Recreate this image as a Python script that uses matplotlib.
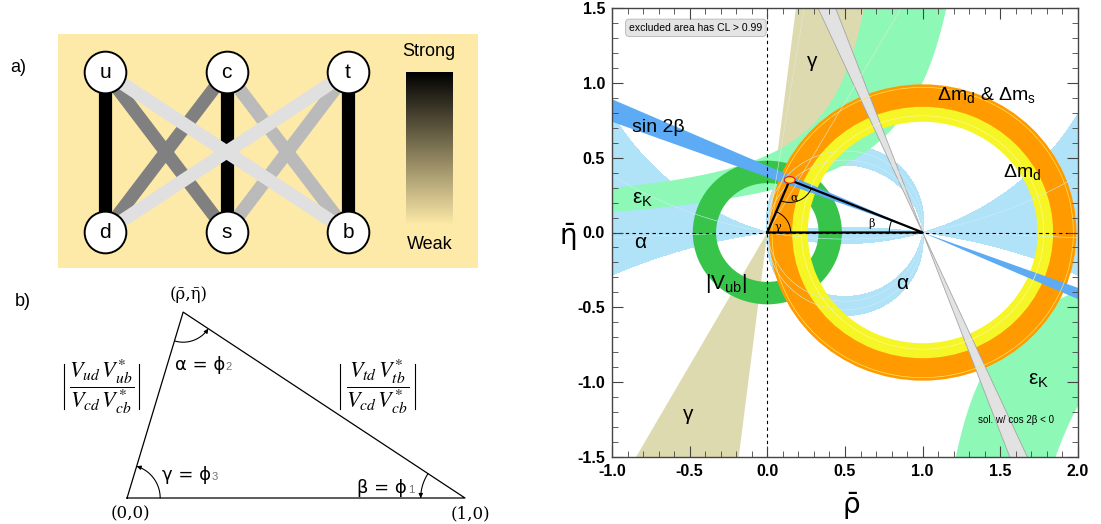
import numpy as np
import matplotlib.pyplot as plt
from matplotlib.patches import Wedge, Ellipse, FancyArrowPatch
from matplotlib.path import Path
from matplotlib.colors import LinearSegmentedColormap
from matplotlib.ticker import MultipleLocator, FormatStrFormatter

plt.rcParams['font.family'] = ['Liberation Sans', 'DejaVu Sans']

# ---- a) quark mixing diagram
up_quarks = ['u', 'c', 't']
down_quarks = ['d', 's', 'b']
# grey shade of each up -> down link (0 = black = strong coupling)
link_shade = [[0.00, 0.50, 0.88],
              [0.50, 0.00, 0.73],
              [0.88, 0.73, 0.00]]

# ---- b) unitarity triangle sketch
tri_apex = (0.166, 0.55)

# ---- c) constraints in the (rho, eta) plane
apex_fit = (0.144, 0.351)
gamma_range = (60.6, 83.0)           # deg, wedge from (0,0)
beta_range = (20.3, 24.0)            # sin 2beta, wedge from (1,0)
beta_alt_range = (110.5, 114.2)      # solution with cos 2beta < 0
alpha_bands = [(81.0, 96.0), (-7.8, 16.8)]
vub_radii = (0.33, 0.48)
dmd_radii = (0.74, 0.95)
dmd_dms_radii = (0.84, 0.99)
# eps_K band edges, eta = b + k / (a - rho)
epsk_upper = [(-0.07, 0.52, 1.48), (0.108, 0.364, 0.88)]
epsk_lower = [(0.15, 0.91, 1.30), (0.05, 0.48, 0.90)]

W, H = 1101, 524
fig = plt.figure(figsize=(W / 100, H / 100), dpi=100)
bg = '#fdeaa8'

# =================== a) ===================
ax_a = fig.add_axes([58 / W, 1 - 268 / H, 420 / W, 234 / H])
ax_a.set_xlim(-0.387, 3.07)
ax_a.set_ylim(-0.225, 1.2375)
ax_a.set_facecolor(bg)
ax_a.set_xticks([])
ax_a.set_yticks([])
for s in ax_a.spines.values():
    s.set_visible(False)

links = [(link_shade[i][j], i, j) for i in range(3) for j in range(3)]
links.sort(key=lambda l: l[0])
for shade, i, j in links:
    ax_a.plot([i, j], [1, 0], color=str(shade), lw=9.5,
              solid_capstyle='butt', zorder=1 + shade)
ax_a.scatter(range(3), [1] * 3, s=900, c='white', edgecolors='k', lw=1.4, zorder=5)
ax_a.scatter(range(3), [0] * 3, s=900, c='white', edgecolors='k', lw=1.4, zorder=5)
for i in range(3):
    ax_a.text(i, 1.0, up_quarks[i], fontsize=15, ha='center', va='center', zorder=6)
    ax_a.text(i, 0.0, down_quarks[i], fontsize=15, ha='center', va='center', zorder=6)

grad = np.linspace(0, 1, 256).reshape(-1, 1)
cmap = LinearSegmentedColormap.from_list('strength', ['black', bg])
ax_a.imshow(grad, cmap=cmap, aspect='auto', origin='upper',
            extent=[2.477, 2.856, 0.044, 1.0], zorder=2)
ax_a.text(2.665, 1.125, 'Strong', fontsize=13, ha='center', va='center')
ax_a.text(2.675, -0.08, 'Weak', fontsize=13, ha='center', va='center')

fig.text(18 / W, 1 - 67 / H, 'a)', fontsize=13, ha='center', va='center')
fig.text(23 / W, 1 - 301 / H, 'b)', fontsize=13, ha='center', va='center')

# =================== b) ===================
ax_b = fig.add_axes([0, 0, 500 / W, 244 / H])
ax_b.set_xlim(-0.376, 1.1036)
ax_b.set_ylim(-0.0769, 0.645)
ax_b.axis('off')

ax_b.plot([0, 1, tri_apex[0], 0], [0, 0, tri_apex[1], 0], color='k', lw=0.9)


def angle_arc(ax, center, radius, a0, a1, lw=0.8):
    t = np.radians(np.linspace(a0, a1, 40))
    pts = np.column_stack([center[0] + radius * np.cos(t),
                           center[1] + radius * np.sin(t)])
    ax.add_patch(FancyArrowPatch(path=Path(pts), arrowstyle='-|>',
                                 mutation_scale=6, lw=lw, color='k'))


ang_side = np.degrees(np.arctan2(tri_apex[1], tri_apex[0]))
ang_right = np.degrees(np.arctan2(-tri_apex[1], 1 - tri_apex[0]))
angle_arc(ax_b, (0, 0), 0.098, 0, ang_side)
angle_arc(ax_b, tri_apex, 0.089, 180 + ang_side, 360 + ang_right)
angle_arc(ax_b, (1, 0), 0.131, 180 + ang_right, 180)

serif = ['DejaVu Serif']
ax_b.text(0.182, 0.601, '(ρ\u0304,η\u0304)', family=serif, fontsize=12,
          ha='center', va='center')
ax_b.text(0.01, -0.046, '(0,0)', family=serif, fontsize=12, ha='center', va='center')
ax_b.text(1.016, -0.046, '(1,0)', family=serif, fontsize=12, ha='center', va='center')

for (x, y, main, sub) in [(0.215, 0.394, 'α = ϕ', '2'),
                          (0.175, 0.069, 'γ = ϕ', '3'),
                          (0.755, 0.030, 'β = ϕ', '1')]:
    t = ax_b.text(x, y, main, family=['DejaVu Sans'], fontsize=13,
                  ha='center', va='center')
    ax_b.annotate(sub, xy=(1, 0), xycoords=t, xytext=(0.5, 1),
                  textcoords='offset points', fontsize=8, color='0.45',
                  ha='left', va='bottom')

# side-length ratios, with thin |...| bars
for xc, num, den, bars in [(-0.077, r'V_{ud}\,V_{ub}^{*}', r'V_{cd}\,V_{cb}^{*}', (-0.188, 0.034)),
                           (0.742, r'V_{td}\,V_{tb}^{*}', r'V_{cd}\,V_{cb}^{*}', (0.631, 0.853))]:
    ax_b.text(xc, 0.330, r'$\dfrac{%s}{%s}$' % (num, den),
              math_fontfamily='stix', fontsize=16, ha='center', va='center')
    for xb in bars:
        ax_b.plot([xb, xb], [0.262, 0.396], color='k', lw=0.8)

# =================== c) rho-eta plane ===================
ax = fig.add_axes([612 / W, 1 - 457 / H, 466 / W, 449 / H])
ax.set_xlim(-1, 2)
ax.set_ylim(-1.5, 1.5)

c_alpha = '#b0e2f8'
c_gamma = '#dddab0'
c_epsk = '#8ef9b6'
c_vub = '#38c44a'
c_dmd = '#f6f526'
c_dms = '#ff9a00'
c_s2b = '#5cabf4'
c_alt = '#e2e2e2'

# alpha: angle at the apex seen from (rho, eta), defined modulo 180 deg
rho = np.linspace(-1.02, 2.02, 900)
eta = np.linspace(-1.52, 1.52, 900)
R, E = np.meshgrid(rho, eta)
Z = R + 1j * E
with np.errstate(divide='ignore', invalid='ignore'):
    alpha = np.degrees(np.angle((1 - Z) / (-Z)))
for lo, hi in alpha_bands:
    mid, hw = 0.5 * (lo + hi), 0.5 * (hi - lo)
    d = np.abs((alpha - mid + 90) % 180 - 90)
    ax.contourf(R, E, d, levels=[0, hw], colors=[c_alpha], zorder=1)
    ax.contour(R, E, d, levels=[0.45 * hw], colors=['#d2ecf8'],
               linewidths=0.4, zorder=9)

# gamma wedge from the origin
ax.add_patch(Wedge((0, 0), 5, gamma_range[0], gamma_range[1], color=c_gamma, lw=0, zorder=2))
ax.add_patch(Wedge((0, 0), 5, 180 + gamma_range[0], 180 + gamma_range[1], color=c_gamma, lw=0, zorder=2))


# eps_K hyperbolic band, both branches
def hyper(p, x):
    b, k, a = p
    return b + k / (a - x)


x_up = np.linspace(-1.05, epsk_upper[0][2] - 0.005, 600)
top = np.where(x_up < epsk_upper[1][2] - 0.002,
               np.minimum(hyper(epsk_upper[1], x_up), 2.0), 2.0)
bot = np.minimum(hyper(epsk_upper[0], x_up), 2.0)
ax.fill_between(x_up, bot, top, where=bot < top, color=c_epsk, lw=0, zorder=3)

x_dn = np.linspace(epsk_lower[1][2] + 0.2, 2.05, 600)
upper_edge = np.maximum(hyper(epsk_lower[1], x_dn), -2.0)
lower_edge = np.where(x_dn > epsk_lower[0][2] + 0.002,
                      np.maximum(hyper(epsk_lower[0], x_dn), -2.0), -2.0)
ax.fill_between(x_dn, lower_edge, upper_edge, where=lower_edge < upper_edge,
                color=c_epsk, lw=0, zorder=3)

# |Vub| ring, dm_d and dm_d & dm_s rings
ax.add_patch(Wedge((0, 0), vub_radii[1], 0, 360, width=vub_radii[1] - vub_radii[0],
                   color=c_vub, lw=0, zorder=4))
ax.add_patch(Wedge((1, 0), dmd_radii[1], 0, 360, width=dmd_radii[1] - dmd_radii[0],
                   color=c_dmd, lw=0, zorder=5))
ax.add_patch(Wedge((1, 0), dmd_dms_radii[1], 0, 360,
                   width=dmd_dms_radii[1] - dmd_dms_radii[0],
                   color=c_dms, lw=0, zorder=6))

# sin 2beta wedge and the cos 2beta < 0 solution
for a0, a1 in [(180 - beta_range[1], 180 - beta_range[0]),
               (-beta_range[1], -beta_range[0])]:
    ax.add_patch(Wedge((1, 0), 5, a0, a1, color=c_s2b, lw=0, zorder=7))
for a0, a1 in [beta_alt_range, (beta_alt_range[0] - 180, beta_alt_range[1] - 180)]:
    ax.add_patch(Wedge((1, 0), 5, a0, a1, fc=c_alt, ec='#a5a5a5', lw=0.6, zorder=8))

# thin inner contours
th = np.linspace(0, 2 * np.pi, 400)
for r, col in [(0.97, '#ffe45a'), (0.78, '#fbfb8a')]:
    ax.plot(1 + r * np.cos(th), r * np.sin(th), color=col, lw=0.5, zorder=9)
for g in (gamma_range[0] - 0.5, gamma_range[1] - 2):
    gr = np.radians(g)
    ax.plot([0, 3 * np.cos(gr)], [0, 3 * np.sin(gr)], color='#e4e8d8', lw=0.4, zorder=9)

# axes through the origin and the triangle
ax.axhline(0, color='k', lw=0.8, ls=(0, (3, 3)), zorder=10)
ax.axvline(0, color='k', lw=0.8, ls=(0, (3, 3)), zorder=10)
ax.plot([0, 1, apex_fit[0], 0], [0, 0, apex_fit[1], 0], color='k', lw=1.6, zorder=11)
ga = np.degrees(np.arctan2(apex_fit[1], apex_fit[0]))
ra = np.degrees(np.arctan2(-apex_fit[1], 1 - apex_fit[0]))
for c, r, a0, a1 in [((0, 0), 0.15, 0, ga),
                     (apex_fit, 0.15, 180 + ga, 360 + ra),
                     ((1, 0), 0.215, 180 + ra, 180)]:
    t = np.radians(np.linspace(a0, a1, 50))
    ax.plot(c[0] + r * np.cos(t), c[1] + r * np.sin(t), color='k', lw=0.7, zorder=11)
for x, y, s in [(0.068, 0.035, 'γ'), (0.171, 0.235, 'α'), (0.67, 0.06, 'β')]:
    ax.text(x, y, s, fontsize=8, family=['DejaVu Serif'], ha='center', va='center', zorder=12)
ax.add_patch(Ellipse(apex_fit, 0.07, 0.045, fc='#ffd83a', ec='#e8201a', lw=0.9, zorder=12))

# constraint labels
lab = dict(ha='center', va='center', zorder=13)
ax.text(0.289, 1.144, 'γ', fontsize=15, **lab)
ax.text(-0.70, 0.70, 'sin 2β', fontsize=14, **lab)
ax.text(-0.80, 0.222, r'ε$_\mathregular{K}$', fontsize=15, **lab)
ax.text(-0.82, -0.067, 'α', fontsize=15, **lab)
ax.text(1.41, 0.91, r'Δm$_\mathregular{d}$ & Δm$_\mathregular{s}$', fontsize=14, **lab)
ax.text(1.64, 0.40, r'Δm$_\mathregular{d}$', fontsize=14, **lab)
ax.text(-0.267, -0.342, r'|V$_\mathregular{ub}$|', fontsize=15, **lab)
ax.text(0.867, -0.342, 'α', fontsize=15, **lab)
ax.text(-0.511, -1.215, 'γ', fontsize=15, **lab)
ax.text(1.744, -0.99, r'ε$_\mathregular{K}$', fontsize=15, **lab)
ax.text(1.60, -1.25, 'sol. w/ cos 2β < 0', fontsize=7, **lab)
ax.text(-0.46, 1.368, 'excluded area has CL > 0.99', fontsize=7.5, zorder=13,
        ha='center', va='center',
        bbox=dict(boxstyle='round,pad=0.35', fc='#e4e4e4', ec='#b4b4b4', lw=0.6))

# ticks and frame
ax.xaxis.set_major_locator(MultipleLocator(0.5))
ax.yaxis.set_major_locator(MultipleLocator(0.5))
ax.xaxis.set_minor_locator(MultipleLocator(0.1))
ax.yaxis.set_minor_locator(MultipleLocator(0.1))
ax.xaxis.set_major_formatter(FormatStrFormatter('%.1f'))
ax.yaxis.set_major_formatter(FormatStrFormatter('%.1f'))
ax.tick_params(which='both', direction='in', top=True, right=True,
               color='#444444', labelsize=11.5)
ax.tick_params(which='major', length=8, width=0.8, pad=5)
ax.tick_params(which='minor', length=4, width=0.6)
for lbl in ax.get_xticklabels() + ax.get_yticklabels():
    lbl.set_fontweight('bold')
ax.xaxis.set_zorder(20)
ax.yaxis.set_zorder(20)
for s in ax.spines.values():
    s.set_color('#444444')
    s.set_linewidth(1.0)
    s.set_zorder(20)

fig.text(851 / W, 1 - 505 / H, 'ρ\u0304', family=['DejaVu Sans'], fontsize=20,
         ha='center', va='center')
fig.text(568 / W, 1 - 236 / H, 'η\u0304', family=['DejaVu Sans'], fontsize=20,
         ha='center', va='center')

fig.savefig('out.png', dpi=100)
